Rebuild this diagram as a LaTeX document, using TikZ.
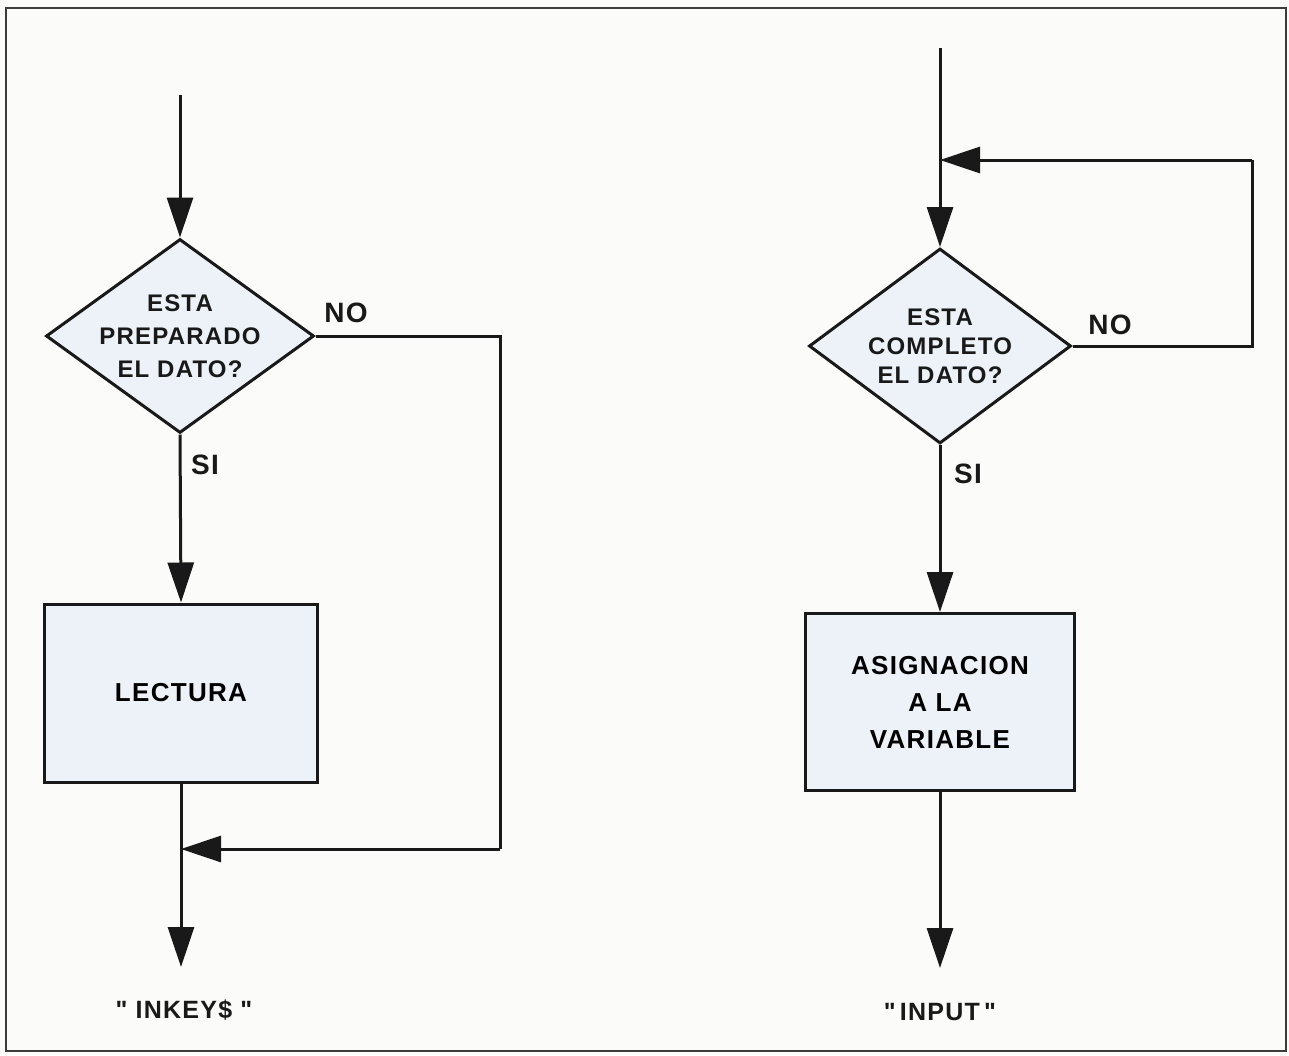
\documentclass[tikz,border=0pt]{standalone}
\usepackage{fontspec}
\setmainfont{Liberation Sans}[LetterSpace=5]
\usetikzlibrary{arrows.meta,shapes.geometric}
\definecolor{ink}{rgb}{0.1,0.1,0.1}
\definecolor{boxfill}{RGB}{236,242,247}
\definecolor{paper}{RGB}{251,251,250}
\tikzset{
  flow/.style={line width=3pt, draw=ink},
  tip/.style={-{Triangle[length=40pt,width=26pt]}},
  decision/.style={shape=diamond, draw=ink, line width=3pt, fill=boxfill, inner sep=0pt},
  process/.style={shape=rectangle, draw=ink, line width=3pt, fill=boxfill, inner sep=0pt, align=center,
    font=\fontsize{26}{37}\selectfont\bfseries},
  dtext/.style={align=center, inner sep=0pt, text=ink},
  answer/.style={inner sep=0pt, text=ink, font=\fontsize{28}{30}\selectfont\bfseries},
  outtext/.style={inner sep=0pt, text=ink, font=\fontsize{25}{30}\selectfont\bfseries}
}
\begin{document}
\begin{tikzpicture}[x=1pt,y=-1pt]
\useasboundingbox (0,0) rectangle (1289,1055);
\fill[paper] (0,0) rectangle (1289,1055);
\draw[line width=2.5pt, draw=ink!85] (6,8) rectangle (1286,1051);

% ---------- left flowchart ----------
\coordinate (top1) at (180,95);
\node[decision, minimum width=268pt, minimum height=194pt] (d1) at (180,336) {};
\node[dtext, font=\fontsize{24}{33}\selectfont\bfseries] (t1) at (d1) {ESTA\\PREPARADO\\EL DATO?};
\node[answer] (no1) at (346,313) {NO};
\node[answer] (si1) at (205,465) {SI};
\node[process, minimum width=273pt, minimum height=178pt] (b1) at (181,693) {LECTURA};
\coordinate (c1) at (500,849);
\coordinate (m1) at (181,849);
\coordinate (e1) at (181,967);
\node[outtext] (o1) at (184,1010) {\textquotedbl\ INKEY\$ \textquotedbl};

\draw[flow,tip] (top1) -- (d1.north);
\draw[flow,tip] (d1.south) -- (b1.north);
\draw[flow] (d1.east) -| (c1);
\draw[flow,tip] (c1) -- (m1);
\draw[flow,tip] (b1.south) -- (e1);

% ---------- right flowchart ----------
\coordinate (top2) at (940,48);
\coordinate (m2) at (940,160);
\coordinate (c2) at (1252,160);
\node[decision, minimum width=262pt, minimum height=195pt] (d2) at (940,346) {};
\node[dtext, font=\fontsize{24}{29}\selectfont\bfseries] (t2) at (d2) {ESTA\\COMPLETO\\EL DATO?};
\node[answer] (no2) at (1110,325) {NO};
\node[answer] (si2) at (968,474) {SI};
\node[process, minimum width=269pt, minimum height=177pt] (b2) at (940,702) {ASIGNACION\\A LA\\VARIABLE};
\coordinate (e2) at (940,968);
\node[outtext] (o2) at (940,1012) {\textquotedbl\,INPUT\,\textquotedbl};

\draw[flow,tip] (top2) -- (d2.north);
\draw[flow] (d2.east) -| (c2);
\draw[flow,tip] (c2) -- (m2);
\draw[flow,tip] (d2.south) -- (b2.north);
\draw[flow,tip] (b2.south) -- (e2);
\end{tikzpicture}
\end{document}
